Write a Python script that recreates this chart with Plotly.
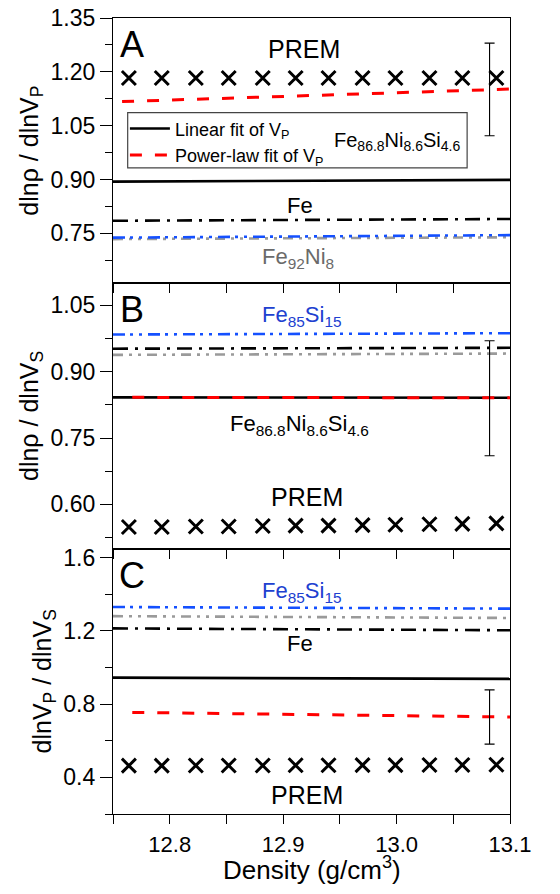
import plotly.graph_objects as go

# ---------------- data ----------------
prem_density = [12.764, 12.793, 12.823, 12.852, 12.882, 12.911,
                12.940, 12.970, 12.999, 13.029, 13.058, 13.088]
# Panel A: dln(rho)/dln(Vp)
prem_A = [1.183, 1.183, 1.183, 1.183, 1.183, 1.183,
          1.183, 1.183, 1.183, 1.183, 1.183, 1.183]
# Panel B: dln(rho)/dln(Vs)
prem_B = [0.549, 0.549, 0.550, 0.550, 0.551, 0.552,
          0.552, 0.553, 0.554, 0.555, 0.556, 0.557]
# Panel C: dln(Vp)/dln(Vs)
prem_C = [0.464, 0.464, 0.465, 0.465, 0.465, 0.466,
          0.466, 0.467, 0.467, 0.468, 0.468, 0.469]

line_x = [12.75, 13.10]
red_x_A = [12.758, 13.10]
red_x_BC = [12.767, 13.10]

# Fe86.8Ni8.6Si4.6 linear fit (black solid) and power-law fit (red dashed)
lin_A = [0.894, 0.899]
pow_A = [1.117, 1.152]
lin_B = [0.842, 0.841]
pow_B = [0.842, 0.841]
lin_C = [0.945, 0.938]
pow_C = [0.755, 0.730]

# Fe (black dash-dot)
fe_A = [0.785, 0.790]
fe_B = [0.952, 0.954]
fe_C = [1.214, 1.204]

# Fe85Si15 (blue dash-dot-dot)
fesi_A = [0.738, 0.745]
fesi_B = [0.984, 0.987]
fesi_C = [1.331, 1.322]

# Fe92Ni8 (grey dash-dot-dot)
feni_A = [0.734, 0.739]
feni_B = [0.938, 0.941]
feni_C = [1.281, 1.271]

# error bars
err_x = [13.082]
err_A_y, err_A_e = [1.151], [0.129]
err_B_y, err_B_e = [0.840], [0.130]
err_C_y, err_C_e = [0.730], [0.148]

# ---------------- styling ----------------
FONT = "Liberation Sans, Arial, Helvetica, sans-serif"
BLUE_LINE = "#1450ff"
BLUE_TEXT = "#2040d0"
GREY_LINE = "#9a9a9a"
GREY_TEXT = "#6a6a6a"
RED = "#ff0000"

DASHDOT = "15px,7px,3px,7px"
DASHDOTDOT_B = "12px,5px,3px,6px,3px,6px"
DASHDOTDOT_G = "10px,6px,3px,6px,3px,6px"
DASH_RED = "12px,13px"

fig = go.Figure()

panels = [
    ("y", prem_A, lin_A, pow_A, fe_A, fesi_A, feni_A, err_A_y, err_A_e, red_x_A),
    ("y2", prem_B, lin_B, pow_B, fe_B, fesi_B, feni_B, err_B_y, err_B_e, red_x_BC),
    ("y3", prem_C, lin_C, pow_C, fe_C, fesi_C, feni_C, err_C_y, err_C_e, red_x_BC),
]
xaxes = {"y": "x", "y2": "x2", "y3": "x3"}

for i, (ya, prem, lin, pw, fe, fesi, feni, ey, ee, rx) in enumerate(panels):
    xa = xaxes[ya]
    fig.add_trace(go.Scatter(x=line_x, y=feni, mode="lines", xaxis=xa, yaxis=ya,
                             line=dict(color=GREY_LINE, width=2.6, dash=DASHDOTDOT_G),
                             showlegend=False))
    fig.add_trace(go.Scatter(x=line_x, y=fesi, mode="lines", xaxis=xa, yaxis=ya,
                             line=dict(color=BLUE_LINE, width=2.6, dash=DASHDOTDOT_B),
                             showlegend=False))
    fig.add_trace(go.Scatter(x=line_x, y=fe, mode="lines", xaxis=xa, yaxis=ya,
                             line=dict(color="black", width=2.6, dash=DASHDOT),
                             showlegend=False))
    fig.add_trace(go.Scatter(x=line_x, y=lin, mode="lines", xaxis=xa, yaxis=ya,
                             line=dict(color="black", width=2.6),
                             name="Linear fit of V<sub>P</sub>",
                             showlegend=(i == 0)))
    fig.add_trace(go.Scatter(x=rx, y=pw, mode="lines", xaxis=xa, yaxis=ya,
                             line=dict(color=RED, width=3, dash=DASH_RED),
                             name="Power-law fit of V<sub>P</sub>",
                             showlegend=(i == 0)))
    fig.add_trace(go.Scatter(x=prem_density, y=prem, mode="markers", xaxis=xa, yaxis=ya,
                             marker=dict(symbol="x-thin", size=14, color="black",
                                         line=dict(color="black", width=3)),
                             showlegend=False))
    fig.add_trace(go.Scatter(x=err_x, y=ey, mode="markers", xaxis=xa, yaxis=ya,
                             marker=dict(size=1, color="rgba(0,0,0,0)"),
                             error_y=dict(type="data", array=ee, visible=True,
                                          color="black", thickness=1.1, width=5),
                             showlegend=False))

# ---------------- axes ----------------
common_x = dict(range=[12.75, 13.10], tickmode="linear", tick0=12.8, dtick=0.1,
                tickformat=".1f", automargin=False, ticklabeloverflow="allow",
                ticks="outside", ticklen=9, tickwidth=1.3, tickcolor="black",
                showline=True, linecolor="black", linewidth=1.3, mirror=True,
                showgrid=False, zeroline=False,
                minor=dict(ticks="outside", ticklen=9, tickwidth=1.3, tickcolor="black",
                           dtick=0.05, tick0=12.75, showgrid=False),
                tickfont=dict(family=FONT, size=22, color="black"))
common_y = dict(ticks="outside", ticklen=12, tickwidth=1.3, tickcolor="black",
                showline=True, linecolor="black", linewidth=1.3, mirror=True,
                showgrid=False, zeroline=False, automargin=False,
                ticklabeloverflow="allow",
                tickfont=dict(family=FONT, size=23, color="black"),
                title_font=dict(family=FONT, size=25, color="black"),
                title_standoff=4)

# The page body has an 8px margin, so the figure is 8px smaller on each side
W, H = 552, 878
fig.update_layout(
    xaxis=dict(common_x, anchor="y", showticklabels=False, matches="x3"),
    xaxis2=dict(common_x, anchor="y2", showticklabels=False, matches="x3"),
    xaxis3=dict(common_x, anchor="y3", ticklabelstandoff=1),
    yaxis=dict(common_y, domain=[0.6668, 1.0], anchor="x",
               range=[0.611, 1.35], tickmode="linear", tick0=0.75, dtick=0.15,
               tickformat=".2f",
               minor=dict(ticks="outside", ticklen=7, tickwidth=1.3, tickcolor="black",
                          dtick=0.075, tick0=0.675, showgrid=False),
               title=dict(text="dlnρ / dlnV<sub>P</sub>")),
    yaxis2=dict(common_y, domain=[0.3334, 0.6668], anchor="x2",
                range=[0.50, 1.10], tickmode="linear", tick0=0.60, dtick=0.15,
                tickformat=".2f",
                minor=dict(ticks="outside", ticklen=7, tickwidth=1.3, tickcolor="black",
                           dtick=0.075, tick0=0.525, showgrid=False),
                title=dict(text="dlnρ / dlnV<sub>S</sub>")),
    yaxis3=dict(common_y, domain=[0.0, 0.3334], anchor="x3",
                range=[0.20, 1.65], tickmode="linear", tick0=0.4, dtick=0.4,
                tickformat=".1f",
                minor=dict(ticks="outside", ticklen=7, tickwidth=1.3, tickcolor="black",
                           dtick=0.2, tick0=0.2, showgrid=False),
                title=dict(text="dlnV<sub>P</sub> / dlnV<sub>S</sub>")),
    width=W, height=H,
    margin=dict(l=105.3, r=50, t=10.3, b=71.7, autoexpand=False),
    paper_bgcolor="white", plot_bgcolor="white",
    font=dict(family=FONT, color="black"),
    legend=dict(x=0.03, y=0.884, xanchor="left", yanchor="top",
                bgcolor="rgba(0,0,0,0)", borderwidth=0,
                font=dict(family=FONT, size=18, color="black"),
                tracegroupgap=0, itemwidth=40),
)

# x-axis title
fig.add_annotation(text="Density (g/cm<sup>3</sup>)", x=0.501, y=0, xref="paper",
                   yref="paper", yshift=-54, showarrow=False,
                   xanchor="center", yanchor="middle",
                   font=dict(family=FONT, size=26, color="black"))

# legend frame (panel A)
fig.add_shape(type="rect", xref="x domain", yref="y domain",
              x0=0.037, x1=0.892, y0=0.435, y1=0.643,
              line=dict(color="#444", width=1.2), fillcolor="rgba(0,0,0,0)")

def label(text, x, y, ref, size, color="black"):
    xr = {"y": "x domain", "y2": "x2 domain", "y3": "x3 domain"}[ref]
    yr = ref + " domain"
    fig.add_annotation(text=text, x=x, y=y, xref=xr, yref=yr, showarrow=False,
                       xanchor="center", yanchor="middle",
                       font=dict(family=FONT, size=size, color=color))

label("A", 0.047, 0.90, "y", 36)
label("B", 0.047, 0.90, "y2", 36)
label("C", 0.047, 0.90, "y3", 36)

label("PREM", 0.481, 0.882, "y", 25)
label("Fe<sub>86.8</sub>Ni<sub>8.6</sub>Si<sub>4.6</sub>", 0.715, 0.535, "y", 20)
label("Fe", 0.471, 0.293, "y", 22)
label("Fe<sub>92</sub>Ni<sub>8</sub>", 0.466, 0.095, "y", 22, GREY_TEXT)

label("Fe<sub>85</sub>Si<sub>15</sub>", 0.476, 0.876, "y2", 22, BLUE_TEXT)
label("Fe<sub>86.8</sub>Ni<sub>8.6</sub>Si<sub>4.6</sub>", 0.471, 0.464, "y2", 22)
label("PREM", 0.488, 0.194, "y2", 25)

label("Fe<sub>85</sub>Si<sub>15</sub>", 0.476, 0.838, "y3", 22, BLUE_TEXT)
label("Fe", 0.471, 0.642, "y3", 22)
label("PREM", 0.488, 0.073, "y3", 25)

fig.write_html("out.html")
